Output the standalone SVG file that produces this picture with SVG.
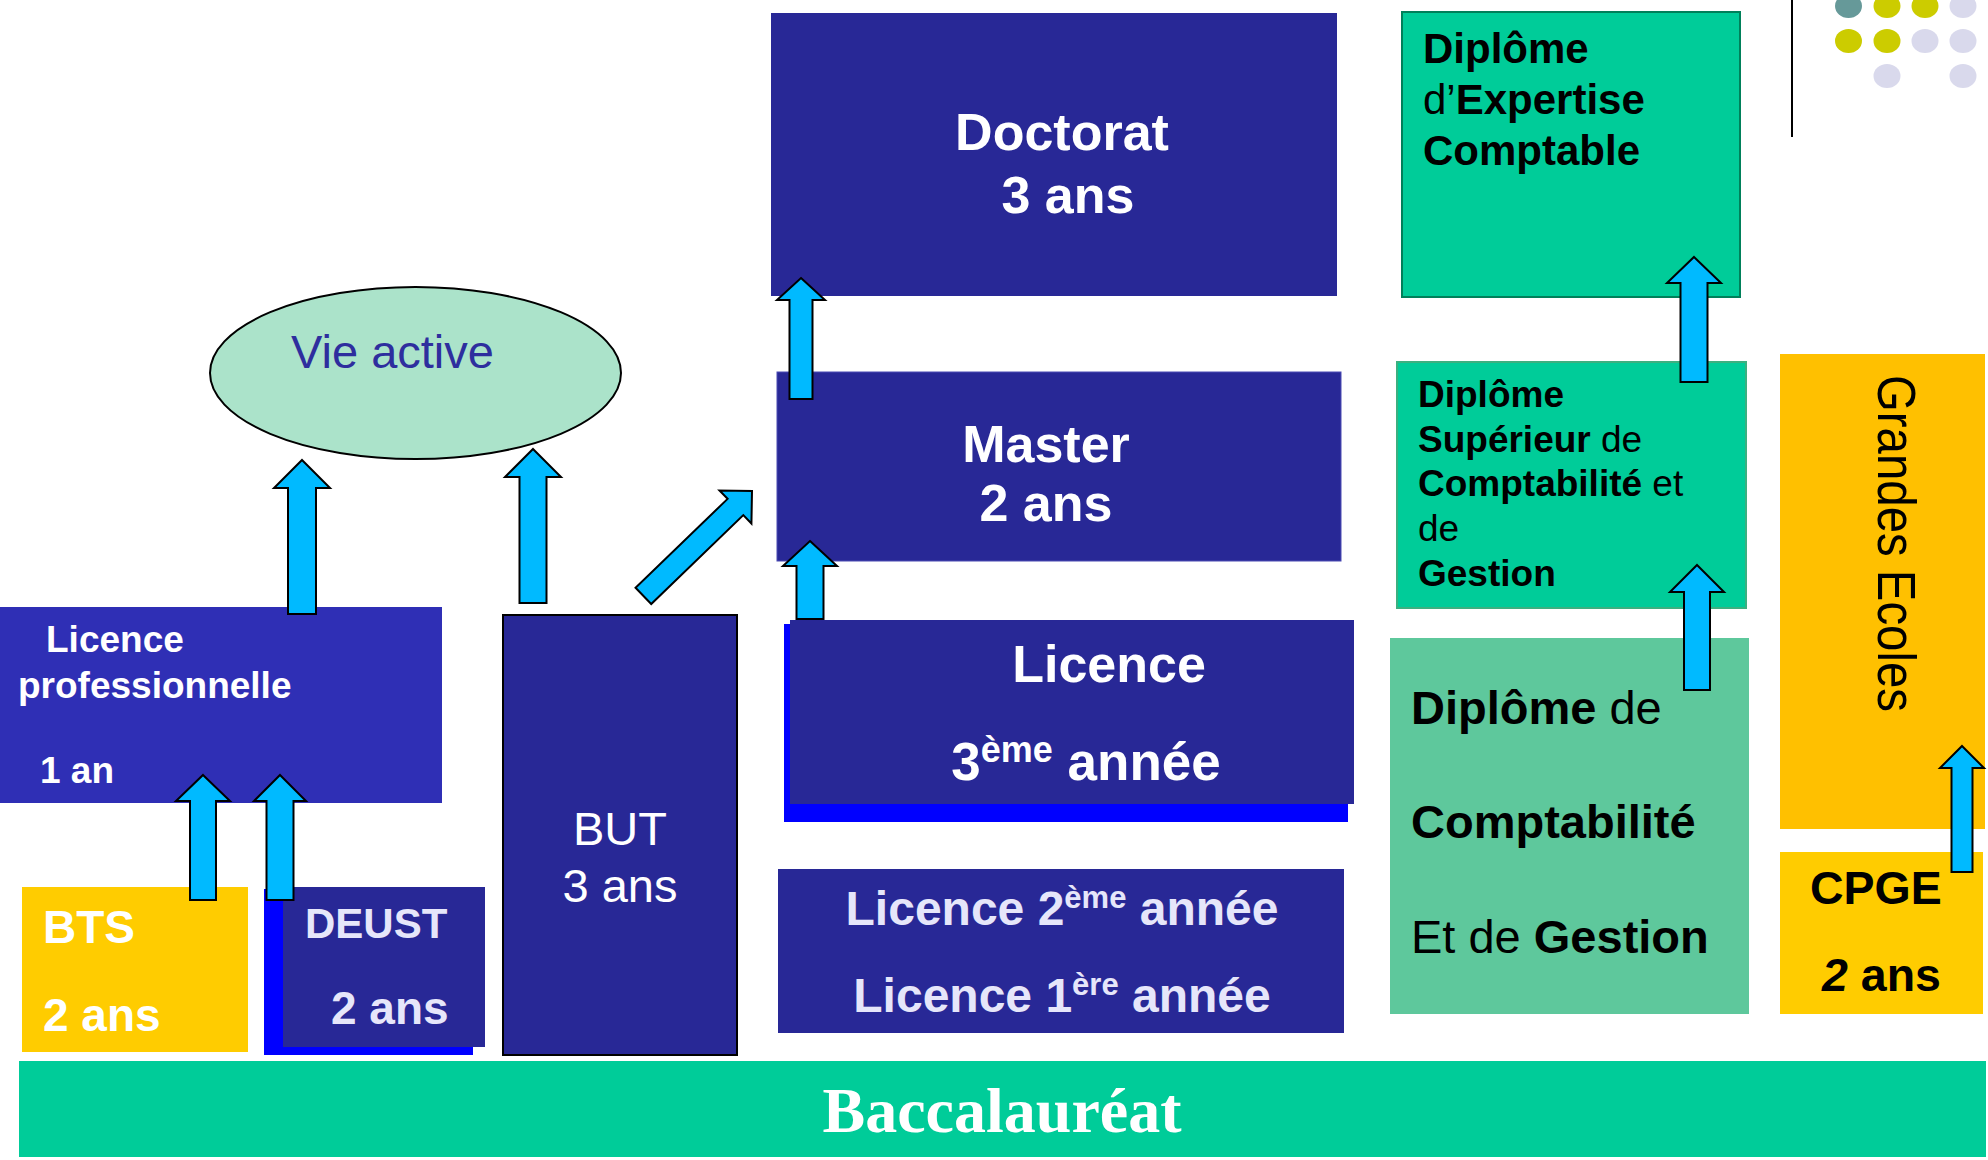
<svg xmlns="http://www.w3.org/2000/svg" width="1988" height="1160" viewBox="0 0 1988 1160">
<style>
  .navy { fill: #282896; }
  .arrow { fill: #00BAFF; stroke: #000; stroke-width: 2; stroke-linejoin: miter; }
  .sans { font-family: "Liberation Sans", Arial, sans-serif; }
  .b { font-weight: bold; }
  .r { font-weight: normal; }
  .w { fill: #FFFFFF; }
  .lav { fill: #E6E6FA; }
  .k { fill: #000000; }
</style>
<rect width="1988" height="1160" fill="#FFFFFF"/>

<g id="decoration">
  <line x1="1792" y1="0" x2="1792" y2="137" stroke="#000" stroke-width="2"/>
  <ellipse cx="1848.5" cy="6" rx="13.5" ry="12" fill="#669999"/>
  <ellipse cx="1887" cy="6" rx="13.5" ry="12" fill="#CCCC00"/>
  <ellipse cx="1925" cy="6" rx="13.5" ry="12" fill="#CCCC00"/>
  <ellipse cx="1963" cy="6" rx="13.5" ry="12" fill="#D9D9EC"/>
  <ellipse cx="1848.5" cy="41" rx="13.5" ry="12" fill="#CCCC00"/>
  <ellipse cx="1887" cy="41" rx="13.5" ry="12" fill="#CCCC00"/>
  <ellipse cx="1925" cy="41" rx="13.5" ry="12" fill="#D9D9EC"/>
  <ellipse cx="1963" cy="41" rx="13.5" ry="12" fill="#D9D9EC"/>
  <ellipse cx="1887" cy="76" rx="13.5" ry="12" fill="#D9D9EC"/>
  <ellipse cx="1963" cy="76" rx="13.5" ry="12" fill="#D9D9EC"/>
</g>

<g id="doctorat">
  <rect x="771" y="13" width="566" height="283" class="navy"/>
  <text class="sans b w" font-size="52" text-anchor="middle"><tspan x="1062" y="150">Doctorat</tspan><tspan x="1068" y="213">3 ans</tspan></text>
</g>

<g id="master">
  <rect x="777" y="372" width="564" height="189" class="navy" stroke="#4A4AB4" stroke-width="1"/>
  <text class="sans b w" font-size="52" text-anchor="middle"><tspan x="1046" y="462">Master</tspan><tspan x="1046" y="521">2 ans</tspan></text>
</g>

<g id="vie-active">
  <ellipse cx="415.5" cy="373" rx="205.5" ry="86" fill="#ABE3CA" stroke="#000" stroke-width="2"/>
  <text class="sans r" font-size="47" fill="#2E2E9E" x="291" y="368">Vie active</text>
</g>

<g id="licence-pro">
  <rect x="0" y="607" width="442" height="196" fill="#2F2FB5"/>
  <text class="sans b w" font-size="37"><tspan x="46" y="652">Licence</tspan><tspan x="18" y="698">professionnelle</tspan><tspan x="40" y="783">1 an</tspan></text>
</g>

<g id="bts">
  <rect x="22" y="887" width="226" height="165" fill="#FFCC00"/>
  <text class="sans b w" font-size="46"><tspan x="43" y="943">BTS</tspan><tspan x="43" y="1031">2 ans</tspan></text>
</g>

<g id="deust">
  <rect x="264" y="889" width="209" height="166" fill="#0000FF"/>
  <rect x="283" y="887" width="202" height="160" class="navy"/>
  <text class="sans b lav"><tspan x="305" y="938" font-size="42">DEUST</tspan><tspan x="331" y="1024" font-size="46">2 ans</tspan></text>
</g>

<g id="but">
  <rect x="503" y="615" width="234" height="440" class="navy" stroke="#000" stroke-width="2"/>
  <text class="sans r w" font-size="47" text-anchor="middle"><tspan x="620" y="845">BUT</tspan><tspan x="620" y="902">3 ans</tspan></text>
</g>

<g id="licence-3">
  <rect x="784" y="624" width="564" height="198" fill="#0000FF"/>
  <rect x="790" y="620" width="564" height="184" class="navy"/>
  <text class="sans b w" font-size="52" text-anchor="middle" x="1109" y="682">Licence</text>
  <text class="sans b w" font-size="53" text-anchor="middle" x="1086" y="780">3<tspan font-size="36" dy="-18">ème</tspan><tspan dy="18"> année</tspan></text>
</g>

<g id="licence-1-2">
  <rect x="778" y="869" width="566" height="164" class="navy"/>
  <text class="sans b lav" font-size="48" text-anchor="middle" x="1062" y="925">Licence 2<tspan font-size="31" dy="-17">ème</tspan><tspan dy="17"> année</tspan></text>
  <text class="sans b lav" font-size="48" text-anchor="middle" x="1062" y="1012">Licence 1<tspan font-size="31" dy="-17">ère</tspan><tspan dy="17"> année</tspan></text>
</g>

<g id="baccalaureat">
  <rect x="19" y="1061" width="1967" height="96" fill="#00CC99"/>
  <text font-family="'Liberation Serif', 'Times New Roman', serif" font-weight="bold" font-size="64" fill="#FFFFFF" text-anchor="middle" x="1002" y="1132">Baccalauréat</text>
</g>

<g id="dec">
  <rect x="1402" y="12" width="338" height="285" fill="#00CC99" stroke="#00805A" stroke-width="2"/>
  <text class="sans k" font-size="42">
    <tspan x="1423" y="63" font-weight="bold">Diplôme</tspan>
    <tspan x="1423" y="114" font-weight="normal">d’<tspan font-weight="bold">Expertise</tspan></tspan>
    <tspan x="1423" y="165" font-weight="bold">Comptable</tspan>
  </text>
</g>

<g id="dscg">
  <rect x="1397" y="362" width="349" height="246" fill="#00CC99" stroke="#3CB080" stroke-width="2"/>
  <text class="sans k" font-size="37">
    <tspan x="1418" y="407" font-weight="bold">Diplôme</tspan>
    <tspan x="1418" y="452" font-weight="bold">Supérieur<tspan font-weight="normal"> de</tspan></tspan>
    <tspan x="1418" y="496" font-weight="bold">Comptabilité<tspan font-weight="normal"> et</tspan></tspan>
    <tspan x="1418" y="541" font-weight="normal">de</tspan>
    <tspan x="1418" y="586" font-weight="bold">Gestion</tspan>
  </text>
</g>

<g id="dcg">
  <rect x="1390" y="638" width="359" height="376" fill="#5EC89C"/>
  <text class="sans k" font-size="47">
    <tspan x="1411" y="724" font-weight="bold">Diplôme<tspan font-weight="normal"> de</tspan></tspan>
    <tspan x="1411" y="838" font-weight="bold">Comptabilité</tspan>
    <tspan x="1411" y="953" font-weight="normal">Et de <tspan font-weight="bold">Gestion</tspan></tspan>
  </text>
</g>

<g id="grandes-ecoles">
  <rect x="1780" y="354" width="205" height="475" fill="#FFC000"/>
  <text class="sans r k" font-size="53" transform="translate(1878,375) rotate(90)" x="0" y="0" textLength="337" lengthAdjust="spacingAndGlyphs">Grandes Ecoles</text>
</g>

<g id="cpge">
  <rect x="1780" y="852" width="203" height="162" fill="#FFCC00"/>
  <text class="sans b k" font-size="46.5"><tspan x="1810" y="904">CPGE</tspan><tspan x="1822" y="991"><tspan font-style="italic">2</tspan> ans</tspan></text>
</g>

<g id="connectors">
  <polygon class="arrow" points="302,460 330,488 316,488 316,614 288,614 288,488 274,488"/>
  <polygon class="arrow" points="533,449 561,477 546.5,477 546.5,603 519.5,603 519.5,477 505,477"/>
  <polygon class="arrow" transform="translate(752,491) rotate(46)" points="0,0 23,23 11.3,23 11.3,151 -11.3,151 -11.3,23 -23,23"/>
  <polygon class="arrow" points="801,278 825,300 812.5,300 812.5,399 789.5,399 789.5,300 777,300"/>
  <polygon class="arrow" points="810,541 837,566 823.5,566 823.5,619 796.5,619 796.5,566 783,566"/>
  <polygon class="arrow" points="203,775 230,801 216,801 216,900 190,900 190,801 176,801"/>
  <polygon class="arrow" points="280,775 306,801 293.5,801 293.5,900 266.5,900 266.5,801 254,801"/>
  <polygon class="arrow" points="1697,565 1724,592 1710,592 1710,690 1684,690 1684,592 1670,592"/>
  <polygon class="arrow" points="1694,257 1721,283 1707.5,283 1707.5,382 1680.5,382 1680.5,283 1667,283"/>
  <polygon class="arrow" points="1962,746 1984,768 1972.5,768 1972.5,872 1951.5,872 1951.5,768 1940,768"/>
</g>
</svg>
